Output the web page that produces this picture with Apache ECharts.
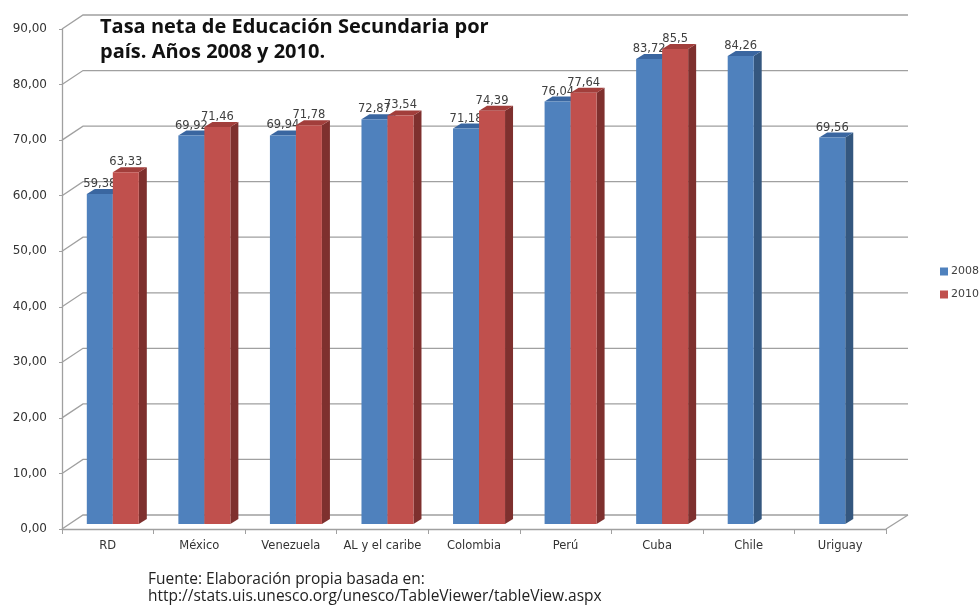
<!DOCTYPE html>
<html>
<head>
<meta charset="utf-8">
<script src="https://cdn.jsdelivr.net/npm/echarts@6/dist/echarts.min.js"></script>
<style>
html,body{margin:0;padding:0;background:#fff;}
#chart{width:979px;height:605px;}
</style>
</head>
<body>
<div id="chart"></div>
<script>
// ---- data ----
const categories = ['RD', 'México', 'Venezuela', 'AL y el caribe', 'Colombia', 'Perú', 'Cuba', 'Chile', 'Uriguay'];
const values2008 = [59.38, 69.92, 69.94, 72.87, 71.18, 76.04, 83.72, 84.26, 69.56];
const values2010 = [63.33, 71.46, 71.78, 73.54, 74.39, 77.64, 85.5, null, null];
const labels2008 = ['59,38', '69,92', '69,94', '72,87', '71,18', '76,04', '83,72', '84,26', '69,56'];
const labels2010 = ['63,33', '71,46', '71,78', '73,54', '74,39', '77,64', '85,5', null, null];
const yTicks = [0, 10, 20, 30, 40, 50, 60, 70, 80, 90];
const seriesNames = ['2008', '2010'];

// ---- styles ----
const FRONT = ['#4F81BD', '#C0504D'];
const TOP = ['#3A66A0', '#A23E3B'];
const SIDE = ['#34577F', '#7E302E'];
const GRID_COLOR = '#A0A0A0';
const WALL_DX = 21, WALL_DY = -14;   // depth offset of back wall
const BAR_DY = -5;                   // bars sit at mid depth
const DEPTH_DX = 8, DEPTH_DY = -5;   // bar thickness

const chart = echarts.init(document.getElementById('chart'));

function wallItem(params, api) {
  const v = api.value(1);
  const p = api.coord([0, v]);
  const w = api.size([1, 0])[0];
  const left = p[0] - w / 2;
  const right = left + w * categories.length;
  const y = p[1];
  const children = [{
    type: 'polyline',
    shape: { points: [[left, y], [left + WALL_DX, y + WALL_DY], [right + WALL_DX + 1, y + WALL_DY]] },
    style: { stroke: GRID_COLOR, lineWidth: 1.3, fill: null },
    silent: true
  }];
  if (v === 0) {
    children.push({
      type: 'line',
      shape: { x1: right, y1: y, x2: right + WALL_DX + 1, y2: y + WALL_DY },
      style: { stroke: GRID_COLOR, lineWidth: 1.3 },
      silent: true
    });
  }
  return { type: 'group', children: children };
}

function makeBarRender(si, labels) {
  return function (params, api) {
    const idx = api.value(0);
    const v = api.value(1);
    if (v == null || isNaN(v)) return null;
    const top = api.coord([idx, v]);
    const base = api.coord([idx, 0]);
    const w = api.size([1, 0])[0];
    const bw = w * 0.284;
    const x0 = top[0] - w * 0.229 + si * bw;
    const x1 = x0 + bw;
    const yt = top[1] + BAR_DY;
    const yb = base[1] + BAR_DY;
    return {
      type: 'group',
      children: [
        { type: 'polygon', shape: { points: [[x1, yt], [x1 + DEPTH_DX, yt + DEPTH_DY], [x1 + DEPTH_DX, yb + DEPTH_DY], [x1, yb]] }, style: { fill: SIDE[si] } },
        { type: 'polygon', shape: { points: [[x0, yt], [x0 + DEPTH_DX, yt + DEPTH_DY], [x1 + DEPTH_DX, yt + DEPTH_DY], [x1, yt]] }, style: { fill: TOP[si] } },
        { type: 'rect', shape: { x: x0, y: yt, width: bw, height: yb - yt }, style: { fill: FRONT[si] } },
        { type: 'text', x: (x0 + x1) / 2, y: yt - 4,
          style: { text: labels[idx], fill: '#404040', font: '11.5px "DejaVu Sans"', align: 'center', verticalAlign: 'bottom' },
          z2: 10 }
      ]
    };
  };
}

const option = {
  backgroundColor: '#ffffff',
  animation: false,
  title: [{
    text: 'Tasa neta de Educación Secundaria por\npaís. Años 2008 y 2010.',
    left: 100, top: 15, padding: 0,
    textStyle: { fontFamily: 'Open Sans', fontWeight: 'bold', fontSize: 20, lineHeight: 25, color: '#111' }
  }, {
    text: 'Fuente: Elaboración propia basada en:\nhttp://stats.uis.unesco.org/unesco/TableViewer/tableView.aspx',
    left: 148, top: 571, padding: 0,
    textStyle: { fontFamily: 'Open Sans', fontWeight: 'normal', fontSize: 15.5, lineHeight: 17, color: '#222' }
  }],
  legend: {
    orient: 'vertical',
    left: 935, top: 261,
    itemWidth: 8, itemHeight: 8, itemGap: 12,
    icon: 'rect',
    textStyle: { fontFamily: 'DejaVu Sans', fontSize: 11, color: '#404040', padding: [0, 0, 0, -2] },
    data: seriesNames
  },
  grid: { left: 62, right: 93, top: 29, bottom: 76 },
  xAxis: {
    type: 'category',
    data: categories,
    axisLine: { show: true, lineStyle: { color: GRID_COLOR, width: 1.3 } },
    axisTick: { show: true, length: 5, lineStyle: { color: GRID_COLOR } },
    axisLabel: { color: '#333', fontFamily: 'DejaVu Sans', fontSize: 11.5, margin: 11, interval: 0 },
    splitLine: { show: false }
  },
  yAxis: {
    type: 'value',
    min: 0, max: 90, interval: 10,
    axisLine: { show: true, lineStyle: { color: GRID_COLOR, width: 1.3 } },
    axisTick: { show: true, length: 3, lineStyle: { color: GRID_COLOR } },
    axisLabel: { color: '#333', fontFamily: 'DejaVu Sans', fontSize: 12, margin: 15,
      formatter: v => v.toFixed(2).replace('.', ',') },
    splitLine: { show: false }
  },
  series: [{
    type: 'custom',
    name: 'wall',
    renderItem: wallItem,
    data: yTicks.map(v => [0, v]),
    silent: true,
    z: 1
  }, {
    type: 'custom',
    name: seriesNames[0],
    itemStyle: { color: FRONT[0] },
    renderItem: makeBarRender(0, labels2008),
    data: values2008.map((v, i) => [i, v]),
    z: 2
  }, {
    type: 'custom',
    name: seriesNames[1],
    itemStyle: { color: FRONT[1] },
    renderItem: makeBarRender(1, labels2010),
    data: values2010.map((v, i) => [i, v]),
    z: 3
  }]
};
chart.setOption(option);
</script>
</body>
</html>
